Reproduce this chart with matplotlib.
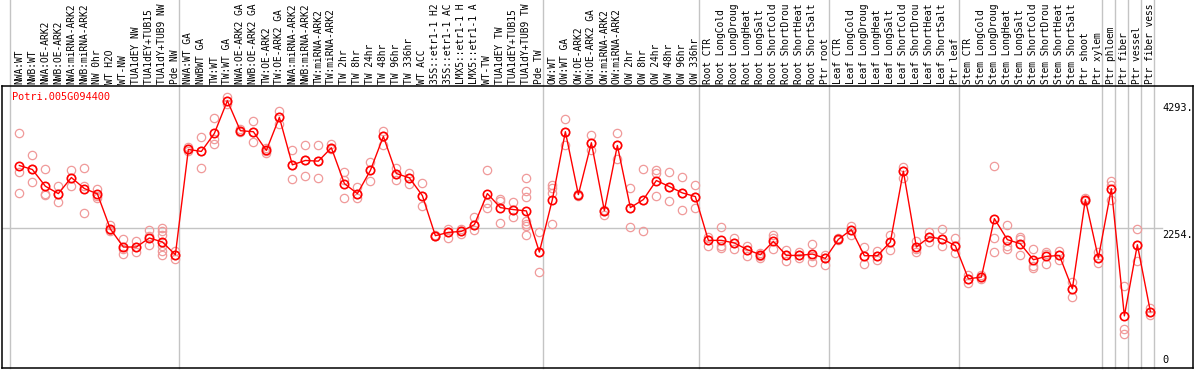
import matplotlib
matplotlib.use("Agg")
import matplotlib.pyplot as plt

gene = "Potri.005G094400"

labels = [
    "NWA:WT", "NWB:WT", "NWA:OE-ARK2", "NWB:OE-ARK2", "NWA:miRNA-ARK2", "NWB:miRNA-ARK2",
    "NW 0hr", "WT H2O", "WT-NW", "TUA1dEY NW", "TUA1dEY+TUB15 NW", "TUA1dY+TUB9 NW", "Pde NW",
    "NWA:WT GA", "NWBWT GA", "TW:WT", "TW:WT GA", "NWA:OE-ARK2 GA", "NWB:OE-ARK2 GA",
    "TW:OE-ARK2", "TW:OE-ARK2 GA", "NWA:miRNA-ARK2 GA", "NWB:miRNA-ARK2 GA", "TW:miRNA-ARK2",
    "TW:miRNA-ARK2 GA", "TW 2hr", "TW 8hr", "TW 24hr", "TW 48hr", "TW 96hr", "TW 336hr", "WT ACC",
    "35S::etr1-1 H2O", "35S::etr1-1 ACC", "LMX5::etr1-1 H2O", "LMX5::etr1-1 ACC", "WT-TW",
    "TUA1dEY TW", "TUA1dEY+TUB15 TW", "TUA1dY+TUB9 TW", "Pde TW",
    "OW:WT", "OW:WT GA", "OW:OE-ARK2", "OW:OE-ARK2 GA", "OW:miRNA-ARK2", "OW:miRNA-ARK2 GA",
    "OW 2hr", "OW 8hr", "OW 24hr", "OW 48hr", "OW 96hr", "OW 336hr",
    "Root CTR", "Root LongCold", "Root LongDrought", "Root LongHeat", "Root LongSalt",
    "Root ShortCold", "Root ShortDrought", "Root ShortHeat", "Root ShortSalt", "Ptr root",
    "Leaf CTR", "Leaf LongCold", "Leaf LongDrought", "Leaf LongHeat", "Leaf LongSalt",
    "Leaf ShortCold", "Leaf ShortDrought", "Leaf ShortHeat", "Leaf ShortSalt", "Ptr leaf",
    "Stem CTR", "Stem LongCold", "Stem LongDrought", "Stem LongHeat", "Stem LongSalt",
    "Stem ShortCold", "Stem ShortDrought", "Stem ShortHeat", "Stem ShortSalt",
    "Ptr shoot", "Ptr xylem", "Ptr phloem", "Ptr fiber", "Ptr vessel", "Ptr fiber vessel",
]

means = [
    3252, 3188, 2919, 2801, 3059, 2882, 2797, 2233, 1943, 1943, 2088, 2024, 1819,
    3510, 3478, 3767, 4293, 3811, 3795, 3494, 4025, 3263, 3333, 3322, 3537, 2962, 2801,
    3172, 3719, 3123, 3054, 2769, 2125, 2178, 2194, 2302, 2801, 2576, 2544, 2523, 1862,
    2705, 3795, 2785, 3618, 2528, 3574, 2576, 2705, 3011, 2914, 2812, 2753,
    2050, 2050, 2008, 1900, 1819, 2033, 1808, 1808, 1830, 1760,
    2066, 2222, 1803, 1803, 2024, 3161, 1943, 2104, 2072, 1964,
    1433, 1460, 2399, 2061, 1996, 1739, 1792, 1808, 1272, 2705, 1766, 2882, 837, 1980, 907,
]

replicates = [
    [3779, 3144, 2813], [3413, 3188, 2995], [3188, 2801, 2780], [2919, 2801, 2668],
    [3172, 3059, 2919], [3215, 2919, 2491], [2877, 2758, 2732], [2302, 2222, 2194],
    [2072, 1911, 1835], [2033, 1943, 1856], [2222, 2114, 1975],
    [2249, 2194, 2141, 1964, 1872, 1819], [1872, 1808, 1755],
    [3542, 3510, 3478], [3714, 3478, 3215], [4020, 3671, 3590], [4358, 4287, 4234],
    [3833, 3811, 3790], [3966, 3634, 3795], [3537, 3483, 3445], [4126, 4025, 3912],
    [3494, 3263, 3038], [3574, 3333, 3091], [3574, 3322, 3054], [3590, 3537, 3510],
    [3144, 3016, 2737], [2903, 2801, 2732], [3305, 3172, 3011], [3804, 3719, 3574],
    [3204, 3123, 3022], [3134, 3054, 2962], [2974, 2769, 2597], [2130, 2125, 2114],
    [2233, 2178, 2088], [2233, 2194, 2146], [2420, 2302, 2222], [3172, 2651, 2571],
    [2716, 2678, 2330], [2661, 2544, 2420], [3054, 2838, 2748, 2355, 2318, 2275, 2141],
    [2185, 1868, 1541],
    [2938, 2885, 2805, 2318], [3993, 3795, 3574], [2800, 2785, 2770], [3735, 3618, 3494],
    [2544, 2517, 2463], [3779, 3574, 3349], [2893, 2576, 2259], [3188, 2705, 2201],
    [3172, 3134, 2758], [3144, 2914, 2689], [3070, 2812, 2544], [2941, 2753, 2571],
    [2104, 2050, 1964], [2265, 1964, 1927], [2088, 2008, 1911], [1964, 1900, 1792],
    [1846, 1792, 1766], [2141, 2088, 1911], [1900, 1808, 1711], [1856, 1808, 1766],
    [1996, 1792, 1702], [1819, 1760, 1647],
    [2080, 2066, 2050], [2286, 2222, 2141], [1937, 1803, 1669], [1872, 1803, 1728],
    [2141, 2024, 1889], [3231, 3161, 3054], [2033, 1911, 1856], [2178, 2104, 2018],
    [2238, 2072, 1964], [2088, 1964, 1846],
    [1492, 1433, 1373], [1497, 1460, 1422], [3252, 2088, 1856], [2302, 1953, 1911],
    [2098, 2072, 1819], [1911, 1631, 1605], [1862, 1830, 1674], [1872, 1808, 1728],
    [1389, 1272, 1138], [2730, 2705, 2680], [1856, 1766, 1686], [2999, 2946, 2705],
    [1320, 623, 547], [2233, 1980, 1711], [961, 907, 853],
]

# column boundaries where groups change
group_edges = [0, 13, 41, 53, 63, 73, 84, 85, 86, 87, 88]
ref_values = [4293, 2254, 0]
ref_labels = ["4293.", "2254.", "0"]

W, H = 1194, 370
fig = plt.figure(figsize=(W / 100, H / 100), dpi=100)
top_px, bot_px, left_px, right_px = 86, 368, 1.5, 1193
ax = fig.add_axes([left_px / W, (H - bot_px) / H, (right_px - left_px) / W, (bot_px - top_px) / H])

ax.set_xlim((left_px - 10) / 13, (right_px - 10) / 13)
ax.set_ylim(0, (bot_px - top_px) * 16.06)
ax.set_xticks([])
ax.set_yticks([])
for s in ax.spines.values():
    s.set_linewidth(1.1)
    s.set_color("black")

mono = "DejaVu Sans Mono"
gray = "#c4c4c4"
ext = 1 + top_px / (bot_px - top_px)

for e in group_edges:
    ax.axvline(e, ymin=0, ymax=ext, color=gray, lw=1, clip_on=False, zorder=1)
ax.plot([ax.get_xlim()[0], 88.6], [2254, 2254], color=gray, lw=1, zorder=1)

xs = [i + 0.72 for i in range(len(means))]
for x, reps in zip(xs, replicates):
    ax.plot([x] * len(reps), reps, linestyle="none", marker="o", markersize=6,
            markerfacecolor="none", markeredgecolor="#f09a9a", markeredgewidth=0.9, zorder=2)
ax.plot(xs, means, color="red", lw=1, marker="o", markersize=6,
        markerfacecolor="none", markeredgecolor="red", markeredgewidth=1.2, zorder=3)

# rotated sample labels above the plot, cut to the width of the header
for x, lab in zip(xs, labels):
    ax.annotate(lab[:14], (x, 1), xycoords=("data", "axes fraction"), xytext=(0, 1.2),
                textcoords="offset points", rotation=90, ha="center", va="bottom",
                fontsize=6.9, family=mono, color="black", annotation_clip=False)

ax.text(10.5 / 1191.5, 1 - 11 / 282, gene, transform=ax.transAxes, color="red",
        fontsize=7.4, family=mono, ha="left", va="center")

for v, lab in zip(ref_values, ref_labels):
    if v == 0:
        ax.annotate(lab, (88.65, v), xytext=(0, 2), textcoords="offset points",
                    ha="left", va="bottom", fontsize=7.4, family=mono)
    else:
        ax.annotate(lab, (88.65, v), xytext=(0, -1.5), textcoords="offset points",
                    ha="left", va="top", fontsize=7.4, family=mono)

fig.savefig("out.png", dpi=100)
